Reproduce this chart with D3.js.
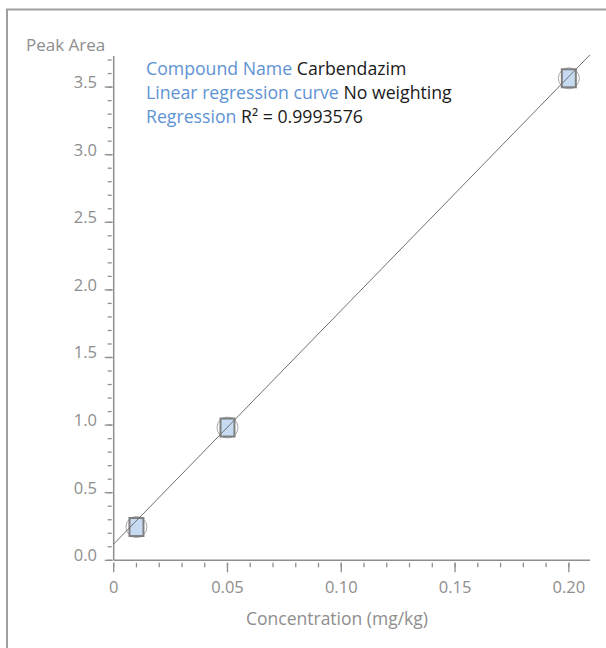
<!DOCTYPE html>
<html lang="en">
<head>
    <meta charset="UTF-8">
    <title>Calibration curve</title>
    <script src="https://d3js.org/d3.v7.min.js"></script>
    <style>
        body { margin: 0; background: #fff; }
        text { font-family: "Open Sans", "Noto Sans", sans-serif; }
    </style>
</head>
<body>
    <div id="chart-container"></div>
    <script>
        // Calibration points
        const concentrations = [0.01, 0.05, 0.20];
        const peakAreas = [0.246, 0.982, 3.565];

        // Regression line (y = slope * x + intercept)
        const slope = 17.29;
        const intercept = 0.12;

        // Axis ticks
        const xMajorTicks = [0, 0.05, 0.10, 0.15, 0.20];
        const xTickLabels = ["0", "0.05", "0.10", "0.15", "0.20"];
        const yMajorTicks = [0, 0.5, 1.0, 1.5, 2.0, 2.5, 3.0, 3.5];
        const yTickLabels = ["0.0", "0.5", "1.0", "1.5", "2.0", "2.5", "3.0", "3.5"];

        // Info text
        const infoLabels = ["Compound Name", "Linear regression curve", "Regression"];
        const infoValues = ["Carbendazim", "No weighting", "R\u00B2 = 0.9993576"];

        const width = 606;
        const height = 648;
        const gray = "#8e8e8e";

        const svg = d3.select("#chart-container")
            .append("svg")
            .attr("width", width)
            .attr("height", height);

        // outer frame (open to the right and bottom)
        svg.append("path")
            .attr("d", "M7,660 L7,9.5 L620,9.5")
            .attr("fill", "none")
            .attr("stroke", "#a0a0a0")
            .attr("stroke-width", 2);

        const x = d3.scaleLinear().domain([0, 0.2093]).range([113.7, 590]);
        const y = d3.scaleLinear().domain([0, 3.73]).range([560.3, 56]);

        const xMinor = d3.range(0, 21).map(i => i / 100);
        const yMinor = d3.range(0, 38).map(i => i / 10);

        // axis lines
        svg.append("line")
            .attr("x1", x(0)).attr("x2", x(0))
            .attr("y1", y(0)).attr("y2", y.range()[1])
            .attr("stroke", gray).attr("stroke-width", 1.5);
        svg.append("line")
            .attr("x1", x(0)).attr("x2", x.range()[1])
            .attr("y1", y(0)).attr("y2", y(0))
            .attr("stroke", gray).attr("stroke-width", 1.5);

        // y ticks
        svg.selectAll(".y-minor")
            .data(yMinor)
            .enter().append("line")
            .attr("x1", x(0) - 6).attr("x2", x(0) - 2)
            .attr("y1", d => y(d)).attr("y2", d => y(d))
            .attr("stroke", gray).attr("stroke-width", 1.3);
        svg.selectAll(".y-major")
            .data(yMajorTicks)
            .enter().append("line")
            .attr("x1", x(0) - 9).attr("x2", x(0) - 1)
            .attr("y1", d => y(d)).attr("y2", d => y(d))
            .attr("stroke", gray).attr("stroke-width", 1.3);
        svg.selectAll(".y-label")
            .data(yMajorTicks)
            .enter().append("text")
            .attr("x", 97)
            .attr("y", d => y(d) + 1)
            .attr("text-anchor", "end")
            .attr("font-size", 16.5)
            .attr("fill", gray)
            .text((d, i) => yTickLabels[i]);

        // x ticks
        svg.selectAll(".x-minor")
            .data(xMinor)
            .enter().append("line")
            .attr("x1", d => x(d)).attr("x2", d => x(d))
            .attr("y1", y(0) + 2.5).attr("y2", y(0) + 7)
            .attr("stroke", gray).attr("stroke-width", 1.3);
        svg.selectAll(".x-major")
            .data(xMajorTicks)
            .enter().append("line")
            .attr("x1", d => x(d)).attr("x2", d => x(d))
            .attr("y1", y(0) + 2.5).attr("y2", y(0) + 12)
            .attr("stroke", gray).attr("stroke-width", 1.3);
        svg.selectAll(".x-label")
            .data(xMajorTicks)
            .enter().append("text")
            .attr("x", d => x(d))
            .attr("y", 593)
            .attr("text-anchor", "middle")
            .attr("font-size", 16.5)
            .attr("fill", gray)
            .text((d, i) => xTickLabels[i]);

        // axis titles
        svg.append("text")
            .attr("x", 337).attr("y", 625)
            .attr("text-anchor", "middle")
            .attr("font-size", 17.5)
            .attr("fill", gray)
            .text("Concentration (mg/kg)");
        svg.append("text")
            .attr("x", 26).attr("y", 51)
            .attr("font-size", 17)
            .attr("fill", gray)
            .text("Peak Area");

        const xEnd = x.domain()[1];

        // points: circle + box
        const pts = concentrations.map((c, i) => ({ c: c, a: peakAreas[i] }));
        svg.selectAll(".pt-circle")
            .data(pts)
            .enter().append("circle")
            .attr("cx", d => x(d.c)).attr("cy", d => y(d.a))
            .attr("r", 10.5)
            .attr("fill", "none")
            .attr("stroke", "#a8a8a8").attr("stroke-width", 1);
        svg.selectAll(".pt-box")
            .data(pts)
            .enter().append("rect")
            .attr("x", d => x(d.c) - 7).attr("y", d => y(d.a) - 9)
            .attr("width", 14).attr("height", 18)
            .attr("fill", "#c6daf1")
            .attr("stroke", "#7f7f7f").attr("stroke-width", 2);
        // regression line drawn over boxes
        svg.append("line")
            .attr("x1", x(0)).attr("y1", y(intercept))
            .attr("x2", x(xEnd)).attr("y2", y(slope * xEnd + intercept))
            .attr("stroke", "#707070").attr("stroke-width", 1);

        // info block
        const info = svg.append("g");
        infoLabels.forEach((lab, i) => {
            const t = info.append("text")
                .attr("x", 146)
                .attr("y", 75 + i * 24)
                .attr("font-size", 17.7);
            t.append("tspan").attr("fill", "#5e93d3").text(lab + " ");
            t.append("tspan").attr("fill", "#1a1a1a").text(infoValues[i]);
        });
    </script>
</body>
</html>
